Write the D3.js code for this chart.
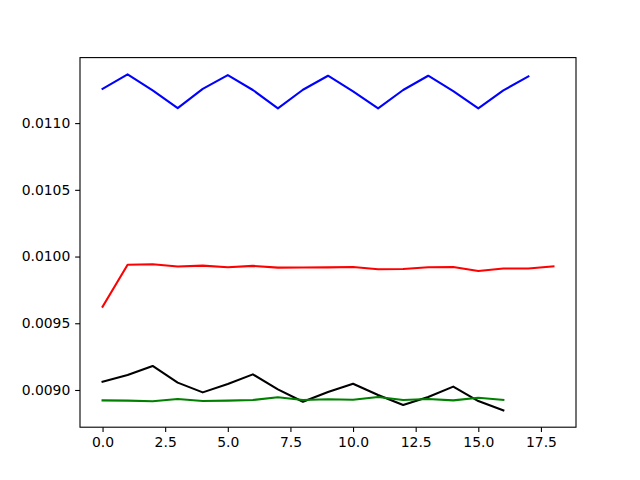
<!DOCTYPE html>
<meta charset="utf-8">
<style>
    body { margin: 0; background: #fff; }
    .axis text { font: 13.9px "DejaVu Sans", sans-serif; fill: #000; }
    .axis path, .axis line { stroke: #000; stroke-width: 1.1; }
</style>
<body>
<script src="https://d3js.org/d3.v7.min.js"></script>
<script>
    var blue = [0.011257, 0.011365, 0.011245, 0.011112, 0.011257, 0.011360, 0.011248, 0.011110, 0.011250,
        0.011355, 0.011238, 0.011110, 0.011248, 0.011355, 0.011240, 0.011110, 0.011245, 0.011350];
    var red = [0.009624, 0.009939, 0.009942, 0.009925, 0.009932, 0.009920, 0.009930, 0.009917, 0.009918,
        0.009919, 0.009922, 0.009905, 0.009907, 0.009920, 0.009922, 0.009892, 0.009910, 0.009910, 0.009927];
    var black = [0.009062, 0.009112, 0.009180, 0.009055, 0.008982, 0.009045, 0.009117, 0.009005, 0.008912,
        0.008985, 0.009047, 0.008962, 0.008887, 0.008947, 0.009025, 0.008917, 0.008847];
    var green = [0.008922, 0.008920, 0.008915, 0.008932, 0.008917, 0.008920, 0.008925, 0.008945, 0.008925,
        0.008930, 0.008927, 0.008948, 0.008925, 0.008932, 0.008922, 0.008942, 0.008925];

    var xTicks = [0, 2.5, 5, 7.5, 10, 12.5, 15, 17.5];
    var yTicks = [0.0090, 0.0095, 0.0100, 0.0105, 0.0110];

    var series = [
        {values: blue, color: "#0000ff"},
        {values: red, color: "#ff0000"},
        {values: black, color: "#000000"},
        {values: green, color: "#008000"}
    ];

    var W = 640, H = 480;
    var margin = {top: 57.6, right: 64, bottom: 52.8, left: 80},
        width = W - margin.left - margin.right,
        height = H - margin.top - margin.bottom;

    var svg = d3.select("body").append("svg")
        .attr("width", W)
        .attr("height", H)
        .append("g")
        .attr("transform", "translate(" + margin.left + "," + margin.top + ")");

    // matplotlib style 5% margins
    var allY = d3.merge(series.map(function(s) { return s.values; }));
    var yMin = d3.min(allY), yMax = d3.max(allY), yPad = (yMax - yMin) * 0.05;
    var xMax = d3.max(series, function(s) { return s.values.length - 1; }), xPad = xMax * 0.05;

    var x = d3.scaleLinear().domain([-xPad, xMax + xPad]).range([0, width]);
    var y = d3.scaleLinear().domain([yMin - yPad, yMax + yPad]).range([height, 0]);

    var line = d3.line()
        .x(function(d, i) { return x(i); })
        .y(function(d) { return y(d); });

    series.forEach(function(s) {
        svg.append("path")
            .datum(s.values)
            .attr("fill", "none")
            .attr("stroke", s.color)
            .attr("stroke-width", 2.08)
            .attr("stroke-linejoin", "round")
            .attr("stroke-linecap", "square")
            .attr("d", line);
    });

    svg.append("rect")
        .attr("width", width)
        .attr("height", height)
        .attr("fill", "none")
        .attr("stroke", "#000")
        .attr("stroke-width", 1.1);

    svg.append("g")
        .attr("class", "axis")
        .attr("transform", "translate(0," + height + ")")
        .call(d3.axisBottom(x).tickValues(xTicks).tickSize(4.86).tickPadding(4.9)
            .tickFormat(d3.format(".1f")))
        .call(function(g) { g.select(".domain").remove(); });

    svg.append("g")
        .attr("class", "axis")
        .call(d3.axisLeft(y).tickValues(yTicks).tickSize(4.86).tickPadding(4.9)
            .tickFormat(d3.format(".4f")))
        .call(function(g) { g.select(".domain").remove(); });
</script>
</body>
